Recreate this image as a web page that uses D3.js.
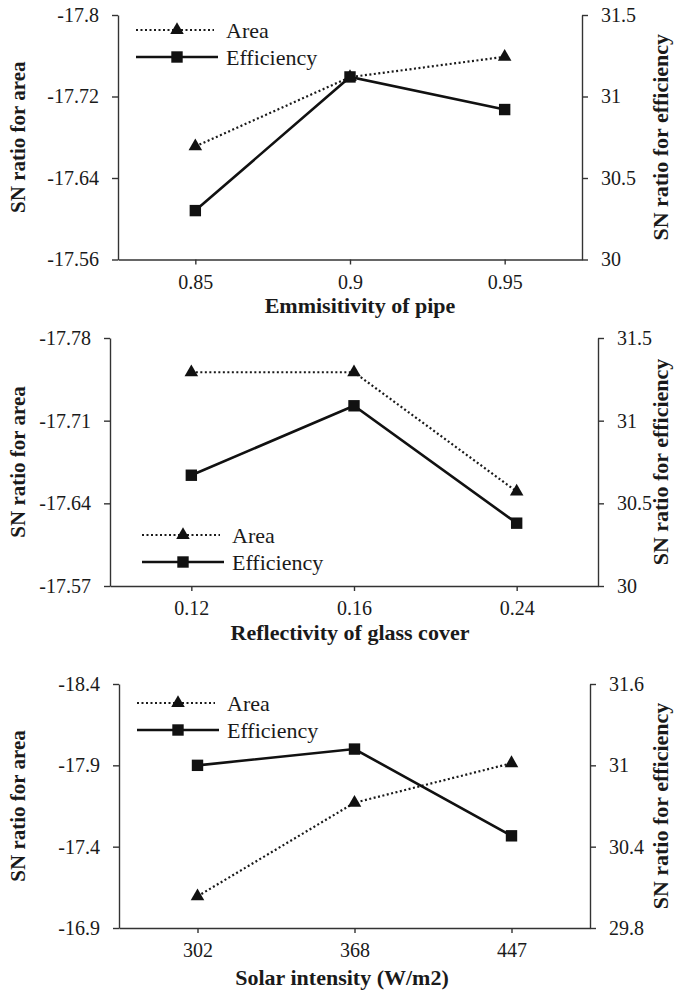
<!DOCTYPE html>
<html>
<head>
<meta charset="utf-8">
<script src="https://cdn.jsdelivr.net/npm/d3@7"></script>
<style>
  body { margin: 0; background: #fff; }
  svg text { font-family: "Liberation Serif", "Times New Roman", serif !important; fill: #1a1a1a; }
  .domain, .tick line { stroke: #333; stroke-width: 1.4px; }
</style>
</head>
<body>
<script>
// panel 1 - emmisitivity of pipe
var categories1 = ["0.85", "0.9", "0.95"];
var area1 = [-17.671, -17.739, -17.759];
var eff1 = [30.30, 31.12, 30.92];
var leftTicks1 = [-17.8, -17.72, -17.64, -17.56];
var rightTicks1 = [31.5, 31, 30.5, 30];

// panel 2 - reflectivity of glass cover
var categories2 = ["0.12", "0.16", "0.24"];
var area2 = [-17.751, -17.751, -17.650];
var eff2 = [30.67, 31.09, 30.38];
var leftTicks2 = [-17.78, -17.71, -17.64, -17.57];
var rightTicks2 = [31.5, 31, 30.5, 30];

// panel 3 - solar intensity
var categories3 = ["302", "368", "447"];
var area3 = [-17.095, -17.67, -17.913];
var eff3 = [31.0, 31.12, 30.48];
var leftTicks3 = [-18.4, -17.9, -17.4, -16.9];
var rightTicks3 = [31.6, 31, 30.4, 29.8];

var xTitles = ["Emmisitivity of pipe", "Reflectivity of glass cover", "Solar intensity (W/m2)"];
var seriesNames = ["Area", "Efficiency"];

var serif = "'Liberation Serif', 'Times New Roman', serif";

// where each panel sits on the page
var layout = [
  {left: 118, right: 582, top: 15, bottom: 259.5, titleY: 313, titleX: 360, legX: 136, legY: 30},
  {left: 110, right: 598, top: 338, bottom: 586, titleY: 640, titleX: 350, legX: 142, legY: 535},
  {left: 119, right: 590, top: 684, bottom: 928, titleY: 985, titleX: 342, legX: 137, legY: 703}
];

var panels = [
  {cats: categories1, area: area1, eff: eff1, lt: leftTicks1, rt: rightTicks1},
  {cats: categories2, area: area2, eff: eff2, lt: leftTicks2, rt: rightTicks2},
  {cats: categories3, area: area3, eff: eff3, lt: leftTicks3, rt: rightTicks3}
];

var svg = d3.select("body").append("svg")
  .attr("width", 677)
  .attr("height", 994)
  .style("font-family", serif);

var triangle = d3.symbol().type(d3.symbolTriangle).size(80);
var square = d3.symbol().type(d3.symbolSquare).size(130);

function tickText(a) {
  a.attr("font-family", serif);
  a.selectAll("text").style("font-size", "20px");
}

panels.forEach(function(p, k) {
  var L = layout[k];
  var g = svg.append("g");

  var x = d3.scalePoint().domain(p.cats).range([L.left, L.right]).padding(0.5);
  var yl = d3.scaleLinear().domain([p.lt[0], p.lt[p.lt.length - 1]]).range([L.top, L.bottom]);
  var yr = d3.scaleLinear().domain([p.rt[p.rt.length - 1], p.rt[0]]).range([L.bottom, L.top]);

  // axes
  g.append("g")
    .attr("transform", "translate(0," + L.bottom + ")")
    .call(d3.axisBottom(x).tickSize(5).tickSizeOuter(0).tickPadding(10))
    .call(tickText);

  g.append("g")
    .attr("transform", "translate(" + L.left + ",0)")
    .call(d3.axisLeft(yl).tickValues(p.lt).tickFormat(function(d) { return String(d); })
      .tickSize(6).tickSizeOuter(0).tickPadding(13))
    .call(tickText);

  g.append("g")
    .attr("transform", "translate(" + L.right + ",0)")
    .call(d3.axisRight(yr).tickValues(p.rt).tickFormat(function(d) { return String(d); })
      .tickSize(6).tickSizeOuter(0).tickPadding(13))
    .call(tickText);

  // axis titles
  var midY = (L.top + L.bottom) / 2;
  g.append("text")
    .attr("transform", "translate(18," + midY + ") rotate(-90)")
    .attr("text-anchor", "middle")
    .attr("dominant-baseline", "central")
    .style("font-size", "21px").style("font-weight", "bold")
    .text("SN ratio for area");

  g.append("text")
    .attr("transform", "translate(660," + midY + ") rotate(-90)")
    .attr("text-anchor", "middle")
    .attr("dominant-baseline", "central")
    .style("font-size", "22px").style("font-weight", "bold")
    .text("SN ratio for efficiency");

  g.append("text")
    .attr("x", L.titleX)
    .attr("y", L.titleY)
    .attr("text-anchor", "middle")
    .style("font-size", "22px").style("font-weight", "bold")
    .text(xTitles[k]);

  // lines
  var areaLine = d3.line().x(function(d, i) { return x(p.cats[i]); }).y(function(d) { return yl(d); });
  var effLine = d3.line().x(function(d, i) { return x(p.cats[i]); }).y(function(d) { return yr(d); });

  g.append("path").datum(p.area)
    .attr("d", areaLine)
    .attr("fill", "none").attr("stroke", "#1a1a1a")
    .attr("stroke-width", 2.2).attr("stroke-dasharray", "2,2.5");

  g.append("path").datum(p.eff)
    .attr("d", effLine)
    .attr("fill", "none").attr("stroke", "#111")
    .attr("stroke-width", 2.6);

  g.selectAll(".tri").data(p.area).enter().append("path")
    .attr("transform", function(d, i) { return "translate(" + x(p.cats[i]) + "," + yl(d) + ")"; })
    .attr("d", triangle).attr("fill", "#111");

  g.selectAll(".sq").data(p.eff).enter().append("path")
    .attr("transform", function(d, i) { return "translate(" + x(p.cats[i]) + "," + yr(d) + ")"; })
    .attr("d", square).attr("fill", "#111");

  // legend
  var leg = g.append("g").attr("transform", "translate(" + L.legX + "," + L.legY + ")");
  leg.append("line").attr("x1", 0).attr("x2", 78).attr("y1", 0).attr("y2", 0)
    .attr("stroke", "#1a1a1a").attr("stroke-width", 2.2).attr("stroke-dasharray", "2,2.5");
  leg.append("path").attr("transform", "translate(41,0)").attr("d", triangle).attr("fill", "#111");
  leg.append("line").attr("x1", 0).attr("x2", 82).attr("y1", 27).attr("y2", 27)
    .attr("stroke", "#111").attr("stroke-width", 2.6);
  leg.append("path").attr("transform", "translate(41,27)").attr("d", square).attr("fill", "#111");

  leg.selectAll(".lt").data(seriesNames).enter().append("text")
    .attr("x", 90)
    .attr("y", function(d, i) { return i * 27; })
    .attr("dominant-baseline", "central")
    .style("font-size", "22px")
    .text(function(d) { return d; });
});
</script>
</body>
</html>
